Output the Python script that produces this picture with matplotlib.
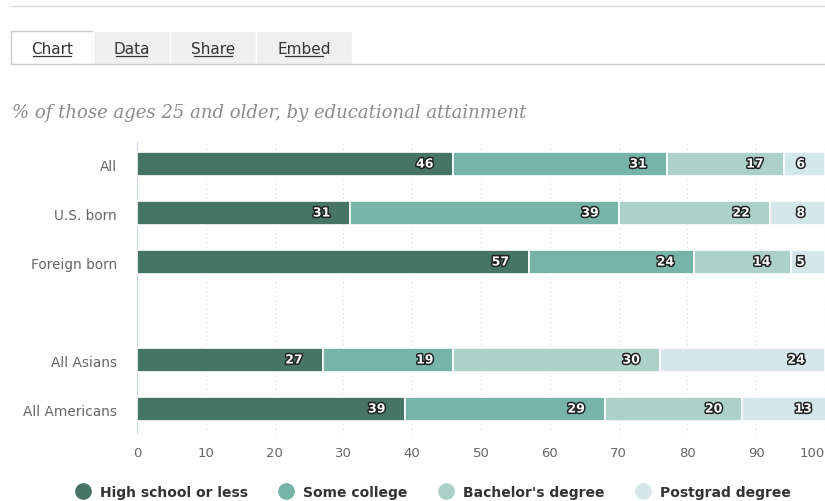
import matplotlib.pyplot as plt
import matplotlib.patheffects as pe
from matplotlib.patches import Rectangle
from matplotlib.lines import Line2D

categories = ["All", "U.S. born", "Foreign born", "", "All Asians", "All Americans"]
high_school = [46, 31, 57, None, 27, 39]
some_college = [31, 39, 24, None, 19, 29]
bachelors = [17, 22, 14, None, 30, 20]
postgrad = [6, 8, 5, None, 24, 13]

series_names = ["High school or less", "Some college", "Bachelor's degree", "Postgrad degree"]
colors = ["#467566", "#76b4a8", "#abd1c8", "#d4e7ea"]
xticks = list(range(0, 101, 10))

fig = plt.figure(figsize=(8.25, 5.02), dpi=100)

# page chrome: top rule, tabs, subtitle
fig.add_artist(Line2D([10 / 825, 1], [1 - 7 / 502] * 2, color="#d8d8d8", lw=1))
tabs = [("Chart", 11, 93), ("Data", 93, 170), ("Share", 170, 256), ("Embed", 256, 352)]
for i, (name, x0, x1) in enumerate(tabs):
    fc = "white" if i == 0 else "#efefef"
    ec = "#cccccc" if i == 0 else "white"
    fig.add_artist(Rectangle((x0 / 825, 1 - 65 / 502), (x1 - x0) / 825, 33 / 502,
                             facecolor=fc, edgecolor=ec, lw=1))
    fig.text((x0 + x1) / 2 / 825, 1 - 49 / 502, name, ha="center", va="center",
             fontsize=11, color="#333333")
fig.add_artist(Line2D([93 / 825, 1], [1 - 65 / 502] * 2, color="#cccccc", lw=1))
# underline tab labels
for name, x0, x1 in tabs:
    w = len(name) * 7.6
    cx = (x0 + x1) / 2
    fig.add_artist(Line2D([(cx - w / 2) / 825, (cx + w / 2) / 825], [1 - 57 / 502] * 2,
                          color="#333333", lw=0.9))

fig.text(12 / 825, 1 - 113 / 502, "% of those ages 25 and older, by educational attainment",
         ha="left", va="center", fontsize=13, style="italic", family="DejaVu Serif",
         color="#8c8c8c")

ax = fig.add_axes([137 / 825, 1 - 435 / 502, 688 / 825, 293 / 502])
ypos = list(range(len(categories)))
series = [high_school, some_college, bachelors, postgrad]
left = [0] * len(categories)
for vals, col in zip(series, colors):
    for i, v in enumerate(vals):
        if v is None:
            continue
        ax.barh(ypos[i], v, left=left[i], height=0.49, color=col, edgecolor="white",
                linewidth=1.2, zorder=3)
        ax.annotate(str(v), xy=(left[i] + v, ypos[i]), xytext=(-20, 0),
                    textcoords="offset pixels", ha="right", va="center",
                    fontsize=9, fontweight="bold", color="white", zorder=5,
                    annotation_clip=False,
                    path_effects=[pe.withStroke(linewidth=2.2, foreground="#222222")])
        left[i] += v

ax.set_xlim(0, 100)
ax.set_ylim(5.51, -0.47)
ax.set_xticks(xticks)
ax.set_yticks([y for y, c in zip(ypos, categories) if c])
ax.set_yticklabels([c for c in categories if c])
ax.tick_params(axis="both", length=0, colors="#666666", labelsize=9.5)
ax.tick_params(axis="y", pad=14.5, labelsize=9.8)
ax.tick_params(axis="x", pad=9)
ax.get_xticklabels()[-1].set_horizontalalignment("right")
ax.grid(axis="x", color="#d8d8d8", linestyle=(0, (1, 3)), lw=0.8, zorder=0)
for s in ["top", "right", "bottom"]:
    ax.spines[s].set_visible(False)
ax.spines["left"].set_color("#ccd6eb")

handles = [Line2D([], [], marker="o", ls="", markersize=11, markerfacecolor=c,
                  markeredgecolor=c) for c in colors]
fig.legend(handles, series_names, loc="center", bbox_to_anchor=(430 / 825, 1 - 493 / 502),
           ncol=4, frameon=False, handletextpad=0.2, columnspacing=1.8,
           prop={"weight": "bold", "size": 10}, labelcolor="#333333")

fig.savefig("out.png", dpi=100)
